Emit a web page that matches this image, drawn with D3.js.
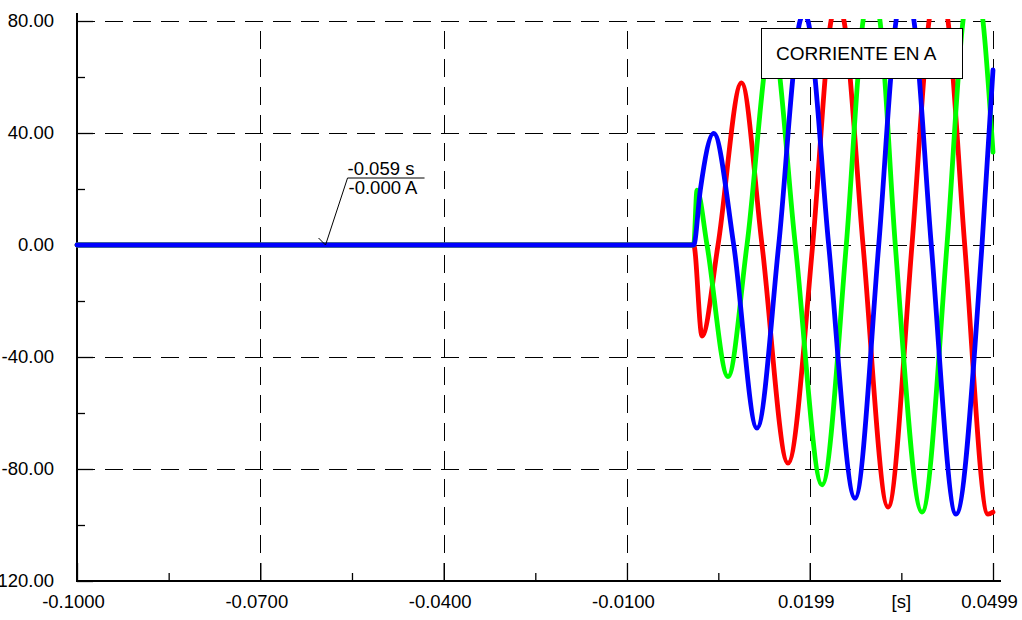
<!DOCTYPE html>
<html>
<head>
<meta charset="utf-8">
<script src="https://cdn.jsdelivr.net/npm/d3@7/dist/d3.min.js"></script>
<style>
  body { margin: 0; background: #fff; }
  svg { display: block; }
  text { font-family: "Liberation Sans", Arial, sans-serif; font-size: 18.5px; fill: #000; }
</style>
</head>
<body>
<svg id="chart" width="1022" height="620"></svg>
<script>
// Axis ticks
const xTicks = [-0.1, -0.07, -0.04, -0.01, 0.0199, 0.0499];
const xMinorTicks = [-0.085, -0.055, -0.025, 0.00495, 0.0349];
const yTicks = [80, 40, 0, -40, -80, -120];
const yMinorTicks = [60, 20, -20, -60, -100];
const xUnitLabel = "[s]";
const xUnitAt = 0.0349;
const legendTitle = "CORRIENTE EN A";

// Cursor readout
const cursorTime = -0.059;
const cursorValue = 0;
const cursorText = ["-0.059 s", "-0.000 A"];

// Phase currents [time s, current A]; peaks above 80 A run off the top of the plot
const phaseRed = [
  [-0.1, 0], [0.00092, 0], [0.00228, -32.5], [0.00490, 0], [0.00874, 57.9],
  [0.01210, 0], [0.01635, -77.9], [0.02039, 0], [0.02339, 80], [0.02445, 87],
  [0.02552, 80], [0.02863, 0], [0.03272, -93.6], [0.03664, 0], [0.03943, 80],
  [0.04098, 96], [0.04254, 80], [0.04527, 0], [0.04908, -96.1], [0.0499, -95.4]
];
const phaseGreen = [
  [-0.1, 0], [0.00092, 0], [0.00146, 19.6], [0.00310, 0], [0.00653, -47.0],
  [0.00964, 0], [0.01373, 74], [0.01755, 0], [0.02192, -85.7], [0.02589, 0],
  [0.02863, 80], [0.03002, 92], [0.03141, 80], [0.03391, 0], [0.03828, -95.4],
  [0.04237, 0], [0.04499, 80], [0.04663, 98], [0.04826, 80], [0.0499, 33.2]
];
const phaseBlue = [
  [-0.1, 0], [0.00092, 0], [0.00200, 19.6], [0.00419, 39.9], [0.00747, 0],
  [0.01128, -65.4], [0.01483, 0], [0.01832, 80], [0.01897, 83], [0.01963, 80],
  [0.02301, 0], [0.02732, -90.4], [0.03120, 0], [0.03403, 80], [0.03550, 94],
  [0.03697, 80], [0.03980, 0], [0.04385, -96.1], [0.04810, 0], [0.0499, 62.5]
];

const series = [
  { data: phaseRed, color: "#ff0000" },
  { data: phaseGreen, color: "#00ff00" },
  { data: phaseBlue, color: "#0000ff" }
];

const locale = d3.formatLocale({ decimal: ".", thousands: ",", grouping: [3], currency: ["", ""], minus: "-" });
const fmtX = locale.format(".4f");
const fmtY = locale.format(".2f");

const svg = d3.select("#chart");
svg.append("rect").attr("width", 1022).attr("height", 620).attr("fill", "#fff");

const x = d3.scaleLinear().domain([-0.1, 0.0499]).range([77, 993]);
const y = d3.scaleLinear().domain([-120, 80]).range([581, 21]);

const [x0, x1] = x.range();
const [yb, yt] = y.range();

svg.append("clipPath").attr("id", "plot-clip")
  .append("rect").attr("x", x0 - 5).attr("y", yt - 2).attr("width", x1 - x0 + 15).attr("height", yb - yt + 10);

// Dashed grid
const grid = svg.append("g").attr("stroke", "#000").attr("stroke-width", 1)
  .attr("stroke-dasharray", "18,10").attr("fill", "none");
grid.selectAll(".gh").data(yTicks.filter(d => d !== -120)).join("line")
  .attr("x1", x0).attr("x2", x1)
  .attr("y1", d => Math.round(y(d)) + 0.5).attr("y2", d => Math.round(y(d)) + 0.5);
grid.selectAll(".gv").data(xTicks.filter(d => d !== -0.1)).join("line")
  .attr("x1", d => Math.round(x(d)) + 0.5).attr("x2", d => Math.round(x(d)) + 0.5)
  .attr("y1", yb).attr("y2", yt);

// Axes with inward ticks
const yAxis = svg.append("g").attr("transform", `translate(${x0},0)`)
  .call(d3.axisLeft(y).tickValues(yTicks).tickFormat(fmtY).tickSizeInner(-16).tickSizeOuter(0).tickPadding(23));
const yMinor = svg.append("g").attr("transform", `translate(${x0},0)`)
  .call(d3.axisLeft(y).tickValues(yMinorTicks).tickFormat("").tickSizeInner(-8).tickSizeOuter(0));
const xAxis = svg.append("g").attr("transform", `translate(0,${yb})`)
  .call(d3.axisBottom(x).tickValues(xTicks).tickFormat(fmtX).tickSizeInner(-18).tickSizeOuter(0).tickPadding(14));
const xMinor = svg.append("g").attr("transform", `translate(0,${yb})`)
  .call(d3.axisBottom(x).tickValues(xMinorTicks).tickFormat("").tickSizeInner(-8).tickSizeOuter(0));

[yAxis, yMinor, xAxis, xMinor].forEach(g => {
  g.select(".domain").remove();
  g.selectAll("line").attr("stroke", "#000").attr("stroke-width", 1.3);
  g.selectAll("text").attr("font-size", null).attr("font-family", null).attr("fill", "#000");
});
xAxis.selectAll("text").attr("dx", -4);

// Unit label on the time axis
svg.append("text").attr("x", x(xUnitAt)).attr("y", yb + 27)
  .attr("text-anchor", "middle").text(xUnitLabel);

// Axis lines
svg.append("line").attr("x1", x0).attr("x2", x0).attr("y1", yt - 8).attr("y2", yb + 1)
  .attr("stroke", "#000").attr("stroke-width", 2);
svg.append("line").attr("x1", x0 - 1).attr("x2", x1 + 8).attr("y1", yb).attr("y2", yb)
  .attr("stroke", "#000").attr("stroke-width", 2);

// Phase current traces
const line = d3.line().x(d => x(d[0])).y(d => y(d[1])).curve(d3.curveMonotoneX);
svg.append("g").attr("clip-path", "url(#plot-clip)")
  .selectAll("path").data(series).join("path")
  .attr("d", d => line(d.data))
  .attr("fill", "none")
  .attr("stroke", d => d.color)
  .attr("stroke-width", 4.8)
  .attr("stroke-linejoin", "round")
  .attr("stroke-linecap", "round");

// Legend box
const legend = svg.append("g");
legend.append("rect").attr("x", 761.5).attr("y", 28.5).attr("width", 201).attr("height", 50)
  .attr("fill", "#fff").attr("stroke", "#000").attr("stroke-width", 1);
legend.append("text").attr("x", 776).attr("y", 60).style("font-size", "19px").text(legendTitle);

// Cursor readout with pointer
const cx = x(cursorTime), cy = y(cursorValue);
const ann = svg.append("g");
const lx = cx + 20, ly = cy - 67;
ann.append("path")
  .attr("d", `M${lx},${ly} L${cx - 2},${cy} L${cx - 9},${cy - 7}`)
  .attr("fill", "none").attr("stroke", "#000").attr("stroke-width", 1);
ann.append("line").attr("x1", lx).attr("x2", lx + 77).attr("y1", ly).attr("y2", ly)
  .attr("stroke", "#000").attr("stroke-width", 1);
ann.append("text").attr("x", lx).attr("y", ly - 3).text(cursorText[0]);
ann.append("text").attr("x", lx + 1).attr("y", ly + 16).text(cursorText[1]);
</script>
</body>
</html>
